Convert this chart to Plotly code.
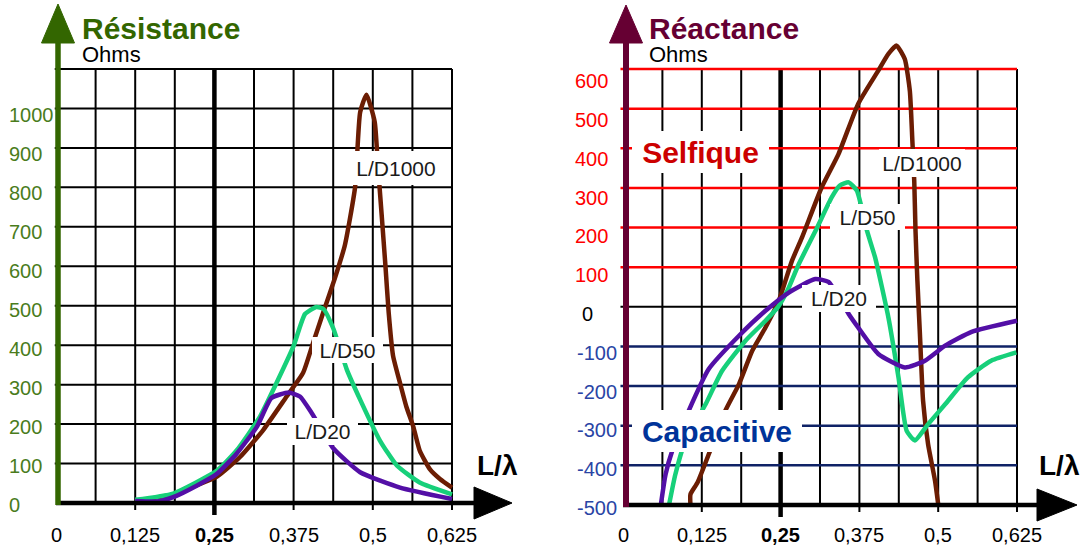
import plotly.graph_objects as go

# ---------------- data ----------------
x_tick_vals = [0, 0.125, 0.25, 0.375, 0.5, 0.625]
x_tick_text = ["0", "0,125", "<b>0,25</b>", "0,375", "0,5", "0,625"]
res_tick_vals = [0, 100, 200, 300, 400, 500, 600, 700, 800, 900, 1000]
rea_tick_vals = [600, 500, 400, 300, 200, 100, 0, -100, -200, -300, -400, -500]

# Résistance (Ohms)
res_x_1000 = [0.125, 0.185, 0.206, 0.254, 0.290, 0.327, 0.364, 0.390, 0.406, 0.422, 0.440, 0.456,
              0.472, 0.480, 0.490, 0.503, 0.508, 0.514, 0.520, 0.525, 0.532, 0.543, 0.553, 0.564,
              0.574, 0.590, 0.606, 0.625]
res_y_1000 = [5, 22, 35, 67, 116, 185, 270, 330, 407, 484, 569, 654,
              800, 990, 1035, 966, 857, 730, 600, 484, 373, 304, 244, 193,
              133, 86, 61, 39]

res_x_50 = [0.125, 0.185, 0.254, 0.285, 0.322, 0.348, 0.375, 0.393, 0.411, 0.422, 0.438, 0.459,
            0.480, 0.511, 0.538, 0.574, 0.625]
res_y_50 = [8, 24, 82, 133, 219, 304, 398, 479, 497, 492, 441, 338,
            262, 159, 95, 52, 22]

res_x_20 = [0.125, 0.159, 0.185, 0.222, 0.254, 0.285, 0.317, 0.340, 0.367, 0.385, 0.404, 0.438,
            0.480, 0.543, 0.625]
res_y_20 = [5, 4, 15, 44, 74, 125, 193, 266, 280, 270, 227, 138,
            78, 39, 10]

# Réactance (Ohms)
rea_x_1000 = [0.107, 0.107, 0.118, 0.136, 0.162, 0.184, 0.205, 0.226, 0.247, 0.268, 0.284, 0.315,
              0.342, 0.373, 0.405, 0.421, 0.434, 0.447, 0.455, 0.459, 0.462, 0.464, 0.467, 0.471,
              0.476, 0.484, 0.495, 0.500]
rea_y_1000 = [-500, -473, -444, -372, -263, -195, -111, -52, 15, 116, 175, 301,
              386, 512, 596, 638, 659, 625, 545, 419, 318, 192, 66, -69,
              -237, -347, -439, -498]

rea_x_50 = [0.073, 0.083, 0.099, 0.131, 0.157, 0.194, 0.226, 0.246, 0.262, 0.278, 0.308, 0.331,
            0.344, 0.358, 0.371, 0.387, 0.400, 0.421, 0.437, 0.450, 0.463, 0.484, 0.511, 0.547,
            0.584, 0.624]
rea_y_50 = [-500, -423, -338, -246, -162, -86, -35, 0, 45, 105, 200, 276,
            306, 314, 293, 192, 124, -27, -178, -313, -337, -296, -246, -178,
            -136, -115]

rea_x_20 = [0.060, 0.0675, 0.078, 0.104, 0.136, 0.184, 0.226, 0.263, 0.305, 0.326, 0.342, 0.358,
            0.373, 0.405, 0.447, 0.479, 0.511, 0.553, 0.625]
rea_y_20 = [-500, -423, -364, -263, -157, -73, -10, 36, 70, 63, 25, -18,
            -52, -119, -153, -136, -98, -63, -35]

series_names = ["L/D1000", "L/D50", "L/D20"]

# ---------------- styles ----------------
FONT = "Liberation Sans, Arial, sans-serif"
C_BROWN = "#6b1d03"
C_GREEN = "#17d07a"
C_PURPLE = "#530fa6"
C_RES = "#336600"
C_RES_TICK = "#4a7c1c"
C_REA = "#660033"
C_RED = "#ff0000"
C_NAVY = "#0f2266"
C_NEG_TICK = "#2a45a5"
C_SELF = "#cc0000"
C_CAPA = "#003399"

W, H = 1081, 548


def PX(p):
    return p / W


def PY(p):
    return 1 - p / H


# pixel geometry of the two panels
LX0, LX1 = 56.0, 452.0     # x = 0 and x = 0.625 (left)
LY0, LY1 = 503.0, 69.0     # y = 0 and y = 1100 (left)
lsx = (LX1 - LX0) / 0.625
lsy = (LY0 - LY1) / 1100.0
l_xr = [-0.03, 0.66]
l_yr = [-45, 1130]

RX0, RX1 = 623.0, 1017.0   # x = 0 and x = 0.625 (right)
RYB, RYT = 505.0, 69.0     # y = -500 and y = 600 (right)
rsx = (RX1 - RX0) / 0.625
rsy = (RYB - RYT) / 1100.0
r_xr = [-0.03, 0.66]
r_yr = [-545, 700]


def lpx(x):
    return LX0 + x * lsx


def lpy(y):
    return LY0 - y * lsy


def rpx(x):
    return RX0 + x * rsx


def rpy(y):
    return RYB - (y + 500) * rsy


fig = go.Figure()

left = [(res_x_1000, res_y_1000, C_BROWN), (res_x_50, res_y_50, C_GREEN), (res_x_20, res_y_20, C_PURPLE)]
right = [(rea_x_1000, rea_y_1000, C_BROWN), (rea_x_50, rea_y_50, C_GREEN), (rea_x_20, rea_y_20, C_PURPLE)]
for (xs, ys, c), name in zip(left, series_names):
    fig.add_trace(go.Scatter(x=xs, y=ys, mode="lines", name=name, xaxis="x", yaxis="y",
                             line=dict(color=c, width=4.5, shape="spline", smoothing=0.5),
                             hoverinfo="skip", showlegend=False))
for (xs, ys, c), name in zip(right, series_names):
    fig.add_trace(go.Scatter(x=xs, y=ys, mode="lines", name=name, xaxis="x2", yaxis="y2",
                             line=dict(color=c, width=4.5, shape="spline", smoothing=0.5),
                             hoverinfo="skip", showlegend=False))

shapes = []
# ---- grid, left panel
for k in range(1, 11):
    xv = k * 0.0625
    thick = (k == 4)
    major = (k % 2 == 0)
    ext = 12 if thick else (7 if major else 0)
    shapes.append(dict(type="line", xref="x", yref="y", x0=xv, x1=xv, y0=-ext / lsy, y1=1100,
                       line=dict(color="#000000", width=4.5 if thick else 2), layer="below"))
for v in range(100, 1101, 100):
    shapes.append(dict(type="line", xref="x", yref="y", x0=-0.002, x1=0.625, y0=v, y1=v,
                       line=dict(color="#000000", width=2), layer="below"))
# ---- grid, right panel
for k in range(1, 11):
    xv = k * 0.0625
    thick = (k == 4)
    major = (k % 2 == 0)
    ext = 12 if thick else (7 if major else 0)
    shapes.append(dict(type="line", xref="x2", yref="y2", x0=xv, x1=xv, y0=-500 - ext / rsy, y1=600,
                       line=dict(color="#000000", width=4.5 if thick else 2), layer="below"))
for v in range(-400, 601, 100):
    col = C_RED if v > 0 else ("#000000" if v == 0 else C_NAVY)
    shapes.append(dict(type="line", xref="x2", yref="y2", x0=-0.004, x1=0.625, y0=v, y1=v,
                       line=dict(color=col, width=2.5 if v != 0 else 2), layer="below"))


def tri(p1, p2, p3, color):
    path = "M {},{} L {},{} L {},{} Z".format(PX(p1[0]), PY(p1[1]), PX(p2[0]), PY(p2[1]),
                                              PX(p3[0]), PY(p3[1]))
    return dict(type="path", xref="paper", yref="paper", path=path, fillcolor=color,
                line=dict(color=color, width=1), layer="above")


def seg(x0, y0, x1, y1, color, width):
    return dict(type="line", xref="paper", yref="paper", x0=PX(x0), y0=PY(y0), x1=PX(x1), y1=PY(y1),
                line=dict(color=color, width=width), layer="above")


# ---- axes with arrows, left
ax_l = lpy(0)
shapes.append(seg(lpx(0), ax_l, 476, ax_l, "#000000", 4.5))
shapes.append(tri((474, ax_l - 16), (474, ax_l + 16), (512, ax_l), "#000000"))
shapes.append(seg(lpx(0) + 2, ax_l + 2, lpx(0) + 2, 40, C_RES, 5.5))
shapes.append(tri((lpx(0) + 2 - 16.5, 43), (lpx(0) + 2 + 16.5, 43), (lpx(0) + 2, 4), C_RES))
# ---- axes with arrows, right
ax_r = rpy(-500)
shapes.append(seg(rpx(0), ax_r, 1040, ax_r, "#000000", 4.5))
shapes.append(tri((1037, ax_r - 16), (1037, ax_r + 16), (1077, ax_r), "#000000"))
shapes.append(seg(rpx(0) + 3, ax_r + 2, rpx(0) + 3, 40, C_REA, 6))
shapes.append(tri((rpx(0) + 3 - 16.5, 43), (rpx(0) + 3 + 16.5, 43), (rpx(0) + 3, 5), C_REA))

ann = []


def text(xp, yp, s, size, color, xanchor="left", bold=False):
    ann.append(dict(x=PX(xp), y=PY(yp), xref="paper", yref="paper", text=("<b>%s</b>" % s) if bold else s,
                    showarrow=False, xanchor=xanchor, yanchor="middle",
                    font=dict(family=FONT, size=size, color=color)))


def box(xp, yp, s, w, h, size=21, color="#1a1a1a", bold=False):
    ann.append(dict(x=PX(xp), y=PY(yp), xref="paper", yref="paper", text=("<b>%s</b>" % s) if bold else s,
                    showarrow=False, xanchor="center", yanchor="middle", width=w, height=h,
                    bgcolor="#ffffff", borderpad=0, borderwidth=0,
                    font=dict(family=FONT, size=size, color=color)))


# titles
text(80, 28, "Résistance", 30, C_RES, bold=True)
text(80, 54, "Ohms", 22, "#000000")
text(647, 28, "Réactance", 30, C_REA, bold=True)
text(647, 54, "Ohms", 22, "#000000")
text(475, 465, "L/λ", 28, "#000000", bold=True)
text(1037, 465, "L/λ", 28, "#000000", bold=True)

# y tick labels
for v in res_tick_vals:
    text(7, 505 - v * 0.39, str(v), 20, C_RES_TICK)
for v in rea_tick_vals:
    if v > 0:
        text(573, 508 - (v + 500) * 0.388, str(v), 20, C_RED)
    elif v == 0:
        text(580, 508 - (v + 500) * 0.388, str(v), 20, "#000000")
    else:
        text(575, 508 - (v + 500) * 0.388, str(v), 20, C_NEG_TICK)

# x tick labels
for v, s in zip(x_tick_vals, x_tick_text):
    text(lpx(v), 535, s, 20, "#000000", xanchor="center")
    text(rpx(v), 535, s, 20, "#000000", xanchor="center")

# curve labels (white boxes)
box(396, 168, "L/D1000", 88, 34)
box(347.5, 349.5, "L/D50", 71, 26)
box(322.5, 431.5, "L/D20", 71, 27)
box(922, 163.5, "L/D1000", 86, 28)
box(867.5, 217.5, "L/D50", 75, 26)
box(839, 298.5, "L/D20", 74, 27)
box(700, 152.5, "Selfique", 137, 42, size=30, color=C_SELF, bold=True)
box(716.7, 430.8, "Capacitive", 170, 42, size=30, color=C_CAPA, bold=True)

ax_common = dict(visible=False, showgrid=False, zeroline=False, fixedrange=True)
fig.update_layout(
    width=W, height=H, autosize=False,
    margin=dict(l=0, r=0, t=0, b=0, pad=0),
    paper_bgcolor="#ffffff", plot_bgcolor="rgba(0,0,0,0)",
    showlegend=False,
    xaxis=dict(domain=[PX(lpx(l_xr[0])), PX(lpx(l_xr[1]))], range=l_xr, anchor="y", **ax_common),
    yaxis=dict(domain=[PY(lpy(l_yr[0])), PY(lpy(l_yr[1]))], range=l_yr, anchor="x", **ax_common),
    xaxis2=dict(domain=[PX(rpx(r_xr[0])), PX(rpx(r_xr[1]))], range=r_xr, anchor="y2", **ax_common),
    yaxis2=dict(domain=[PY(rpy(r_yr[0])), PY(rpy(r_yr[1]))], range=r_yr, anchor="x2", **ax_common),
    shapes=shapes,
    annotations=ann,
    font=dict(family=FONT),
)

fig.write_html("out.html", config={"displayModeBar": False},
               post_script="document.body.style.margin='0px';document.body.style.overflow='hidden';")
